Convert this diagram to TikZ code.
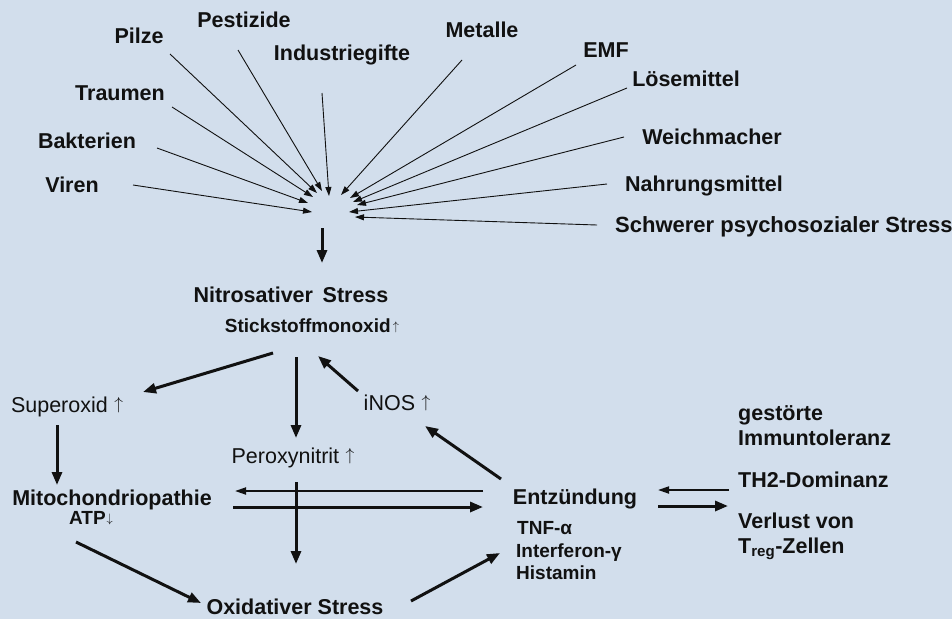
\documentclass[tikz,border=0pt]{standalone}
\usepackage{graphicx}
\usepackage{fontspec}
\setmainfont{Liberation Sans}
\usetikzlibrary{arrows.meta}
\definecolor{bg}{RGB}{210,222,236}
\definecolor{ink}{RGB}{17,17,17}
\newcommand{\arrowbox}[2]{\resizebox*{!}{#1}{\raisebox{1.94pt}{\normalsize$#2$}}}
\newcommand{\bigup}{\hspace{0.3em}\arrowbox{15.5pt}{\uparrow}}
\newcommand{\smallup}{\hspace{0.12em}\arrowbox{11pt}{\uparrow}}
\newcommand{\smalldown}{\hspace{0.05em}\arrowbox{11pt}{\downarrow}}
\begin{document}
\begin{tikzpicture}[x=1pt,y=-1pt,
  lbl/.style={inner sep=0pt, text height=15.5pt, text depth=0pt, font=\fontsize{21.5}{24}\selectfont\bfseries, text=ink},
  lblr/.style={lbl, font=\fontsize{21.5}{24}\selectfont},
  lbls/.style={lbl, text height=13.5pt, font=\fontsize{19}{22}\selectfont\bfseries},
  src/.style={draw=ink, line width=0.9pt, -{Triangle[length=9pt,width=6pt]}},
  boldarrow/.style={draw=ink, line width=3pt, -{Triangle[length=13pt,width=10pt]}},
  thinarrow/.style={draw=ink, line width=1.8pt, -{Triangle[length=11pt,width=7pt]}},
]
\fill[bg] (0,0) rectangle (952,619);
\useasboundingbox (0,0) rectangle (952,619);

% source labels
\node[lbl] (pilze) at (139,36) {Pilze};
\node[lbl] (pest) at (244,20) {Pestizide};
\node[lbl] (indus) at (342,53) {Industriegifte};
\node[lbl] (metal) at (482,30) {Metalle};
\node[lbl] (emf) at (606,50) {EMF};
\node[lbl] (loes) at (686,79) {Lösemittel};
\node[lbl] (weich) at (712,137) {Weichmacher};
\node[lbl] (nahr) at (704,184) {Nahrungsmittel};
\node[lbl, anchor=west, font=\fontsize{22}{24}\selectfont\bfseries] (schw) at (615,225) {Schwerer psychosozialer Stress};
\node[lbl] (traum) at (120,93) {Traumen};
\node[lbl] (bakt) at (87,141) {Bakterien};
\node[lbl] (viren) at (72,185) {Viren};

% start points of the source lines
\coordinate (sViren) at (133,185);
\coordinate (sBakt) at (157,148);
\coordinate (sTraum) at (172,107);
\coordinate (sPilze) at (170,54);
\coordinate (sPest) at (238,50);
\coordinate (sIndus) at (322,93);
\coordinate (sMetal) at (462,60);
\coordinate (sEmf) at (576,65);
\coordinate (sLoes) at (627,88);
\coordinate (sWeich) at (624,137);
\coordinate (sNahr) at (607,184);
\coordinate (sSchw) at (597,225);
% tips at the hub
\coordinate (tViren) at (312,212);
\coordinate (tBakt) at (308,203);
\coordinate (tTraum) at (313,197);
\coordinate (tPilze) at (317,193);
\coordinate (tPest) at (322,191);
\coordinate (tIndus) at (329,196);
\coordinate (tMetal) at (341,195);
\coordinate (tEmf) at (350,198);
\coordinate (tLoes) at (353,202);
\coordinate (tWeich) at (357,205);
\coordinate (tNahr) at (349,212);
\coordinate (tSchw) at (355,217);
\coordinate (hubTop) at (322,228);

\foreach \n in {Viren,Bakt,Traum,Pilze,Pest,Indus,Metal,Emf,Loes,Weich,Nahr,Schw}
  \draw[src] (s\n) -- (t\n);

% lower graph
\node[lbl] (nitro) at (291,295) {Nitrosativer\hspace{0.45em}Stress};
\node[lbls] (stick) at (312,326) {Stickstoffmonoxid\smallup};
\node[lblr] (superox) at (67,405) {Superoxid\bigup};
\node[lblr] (inos) at (397,403) {iNOS\bigup};
\node[lblr] (perox) at (293,456) {Peroxynitrit\bigup};
\node[lbl] (mito) at (112,498) {Mitochondriopathie};
\node[lbls] (atp) at (91,518) {ATP\smalldown};
\node[lbl] (oxid) at (295,607) {Oxidativer Stress};
\node[lbl] (entz) at (575,497) {Entzündung};
\node[lbls, anchor=west] (tnf) at (517,528) {TNF-α};
\node[lbls, anchor=west] (ifn) at (516,551) {Interferon-γ};
\node[lbls, anchor=west] (hist) at (516,573) {Histamin};
\node[lbl, anchor=west] (gest) at (738,413) {gestörte};
\node[lbl, anchor=west] (immun) at (738,438) {Immuntoleranz};
\node[lbl, anchor=west] (th2) at (738,480) {TH2-Dominanz};
\node[lbl, anchor=west] (verl) at (738,521) {Verlust von};
\node[lbl, anchor=west] (treg) at (738,546) {T\textsubscript{reg}-Zellen};

\draw[boldarrow] (hubTop) -- ([shift={(31,-32)}]nitro.center);
\draw[boldarrow] ([shift={(-39,27)}]stick.center) -- ([shift={(76,-13)}]superox.center);
\draw[boldarrow] ([shift={(5,62)}]nitro.center) -- ([shift={(3,-18)}]perox.center);
\draw[boldarrow] ([shift={(-39,-12)}]inos.center) -- ([shift={(6,30)}]stick.center);
\draw[boldarrow] ([shift={(-74,-18)}]entz.center) -- ([shift={(28,23)}]inos.center);
\draw[boldarrow] ([shift={(-10,20)}]superox.center) -- ([shift={(-55,-13)}]mito.center);
\draw[thinarrow] ([shift={(-92,-6)}]entz.center) -- ([shift={(123,-7)}]mito.center);
\draw[boldarrow] ([shift={(121,9)}]mito.center) -- ([shift={(-92,10)}]entz.center);
\draw[boldarrow] ([shift={(3,26)}]perox.center) -- ([shift={(1,-43)}]oxid.center);
\draw[boldarrow] ([shift={(-15,24)}]atp.center) -- ([shift={(-94,-4)}]oxid.center);
\draw[boldarrow] ([shift={(116,-6)}]oxid.center) -- ([shift={(-75,56)}]entz.center);
\draw[thinarrow] ([shift={(-9,10)}]th2.west) -- ([shift={(83,-7)}]entz.center);
\draw[boldarrow] ([shift={(83,9)}]entz.center) -- ([shift={(-10,-15)}]verl.west);
\end{tikzpicture}
\end{document}
